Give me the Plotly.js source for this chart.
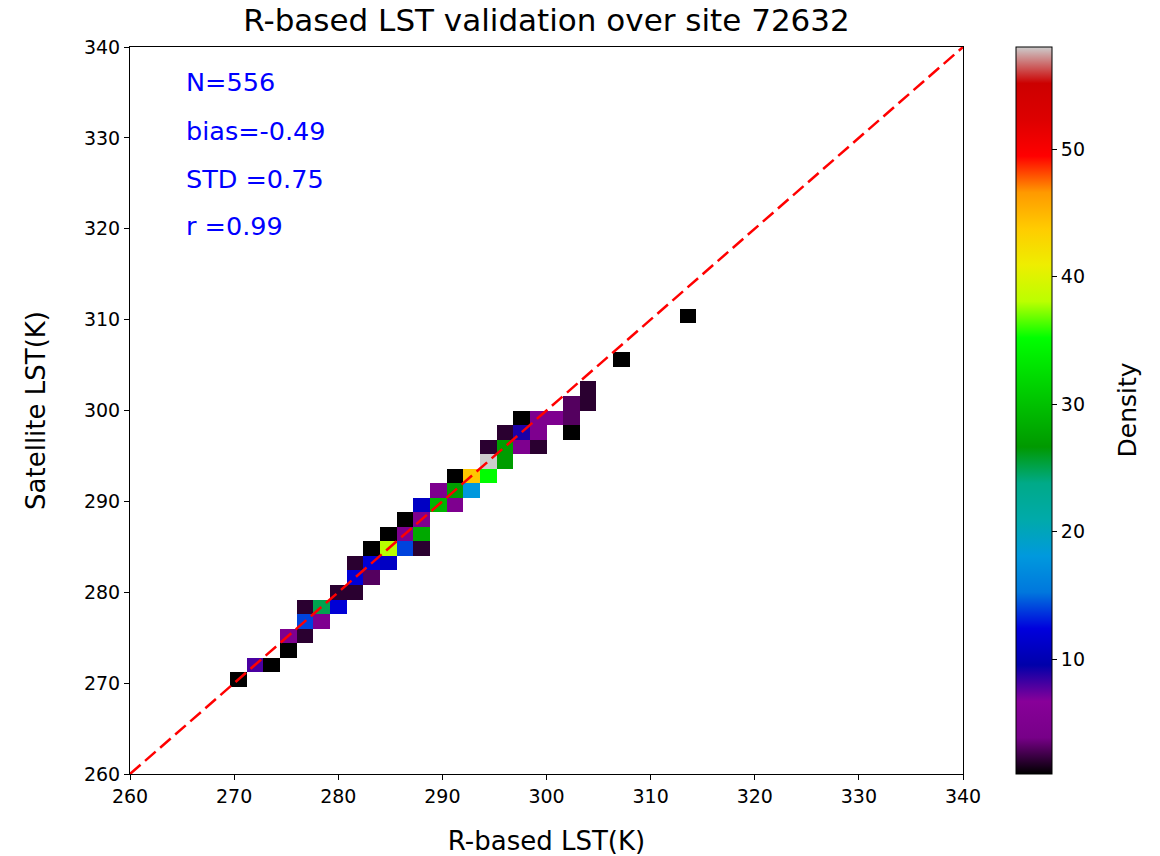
<!DOCTYPE html>
<html><head><meta charset="utf-8">
<script src="https://cdn.plot.ly/plotly-3.0.1.min.js"></script>
<style>html,body{margin:0;padding:0;background:#fff}#chart{width:1160px;height:856px}</style>
</head><body><div id="chart"></div>
<script>
// 2D histogram bins (K)
const binStart = 260, binSize = 1.6, binCount = 50;
// occupied cells: bin centre of R-based LST, bin centre of Satellite LST, count
const cellX = [270.4,272.0,273.6,275.2,275.2,276.8,276.8,276.8,278.4,278.4,280.0,280.0,281.6,281.6,281.6,283.2,283.2,283.2,284.8,284.8,284.8,286.4,286.4,286.4,288.0,288.0,288.0,288.0,289.6,289.6,291.2,291.2,291.2,292.8,292.8,294.4,294.4,294.4,296.0,296.0,296.0,297.6,297.6,297.6,299.2,299.2,299.2,300.8,302.4,302.4,302.4,304.0,304.0,307.2,313.6];
const cellY = [270.4,272.0,272.0,273.6,275.2,275.2,276.8,278.4,276.8,278.4,278.4,280.0,280.0,281.6,283.2,281.6,283.2,284.8,283.2,284.8,286.4,284.8,286.4,288.0,284.8,286.4,288.0,289.6,289.6,291.2,289.6,291.2,292.8,291.2,292.8,292.8,294.4,296.0,294.4,296.0,297.6,296.0,297.6,299.2,296.0,297.6,299.2,299.2,297.6,299.2,300.8,300.8,302.4,305.6,310.4];
const cellCount = [1,8,1,1,5,2,14,2,5,25,12,2,2,12,2,3,12,1,11,38,1,14,5,1,2,28,5,11,29,5,5,27,1,18,44,35,58,2,27,27,2,5,9,1,2,5,5,5,1,3,3,2,2,1,1];
const statLabels = ['N=556','bias=-0.49','STD =0.75','r =0.99'];
const statY = [336.1,330.8,325.5,320.3];
const axisTicks = [260,270,280,290,300,310,320,330,340];
const densityTicks = [10,20,30,40,50];

const centers = [];
for (let i = 0; i < binCount; i++) centers.push(+(binStart + binSize*(i+0.5)).toFixed(2));
const z = [];
for (let j = 0; j < binCount; j++) z.push(new Array(binCount).fill(null));
for (let k = 0; k < cellX.length; k++) {
  const i = Math.round((cellX[k]-binStart)/binSize - 0.5);
  const j = Math.round((cellY[k]-binStart)/binSize - 0.5);
  z[j][i] = cellCount[k];
}

const nipy = [
 [0,'rgb(0,0,0)'],[0.05,'rgb(119,0,136)'],[0.10,'rgb(136,0,153)'],[0.15,'rgb(0,0,170)'],
 [0.20,'rgb(0,0,221)'],[0.25,'rgb(0,119,221)'],[0.30,'rgb(0,153,221)'],[0.35,'rgb(0,170,170)'],
 [0.40,'rgb(0,170,136)'],[0.45,'rgb(0,153,0)'],[0.50,'rgb(0,187,0)'],[0.55,'rgb(0,221,0)'],
 [0.60,'rgb(0,255,0)'],[0.65,'rgb(187,255,0)'],[0.70,'rgb(238,238,0)'],[0.75,'rgb(255,204,0)'],
 [0.80,'rgb(255,153,0)'],[0.85,'rgb(255,0,0)'],[0.90,'rgb(221,0,0)'],[0.95,'rgb(204,0,0)'],
 [1.0,'rgb(204,204,204)']];

const FONT = 'DejaVu Sans, sans-serif';
const TICK = 19, LABEL = 26;
const traces = [
 {type:'heatmap', x:centers, y:centers, z:z, zmin:1, zmax:58, colorscale:nipy, zsmooth:false,
  hoverongaps:false,
  colorbar:{x:1.0636, xanchor:'left', xpad:0, ypad:0, y:0.5, yanchor:'middle', len:1, lenmode:'fraction',
    thickness:36, thicknessmode:'pixels', outlinewidth:1, outlinecolor:'#000',
    tickmode:'array', tickvals:densityTicks, ticks:'outside', ticklen:5, tickcolor:'#000',
    tickfont:{family:FONT,size:TICK,color:'#000'}}},
 {type:'scatter', mode:'lines', x:[axisTicks[0], axisTicks[axisTicks.length-1]], y:[axisTicks[0], axisTicks[axisTicks.length-1]],
  line:{color:'#ff0000', width:2.5, dash:'14px,6px'}, hoverinfo:'skip', showlegend:false}
];

const axisCommon = {range:[260,340], tickmode:'array', tickvals:axisTicks, ticks:'outside', ticklen:5,
  tickcolor:'#000', showline:true, mirror:true, linecolor:'#000', linewidth:1, showgrid:false, zeroline:false,
  tickfont:{family:FONT,size:TICK,color:'#000'}};

const annotations = statLabels.map((t,k)=>({text:t, x:265, y:statY[k], xref:'x', yref:'y', xanchor:'left', yanchor:'middle',
    showarrow:false, font:{family:FONT,size:25.5,color:'#0000ff'}, xshift:2}));
annotations.push({text:'Density', xref:'paper', yref:'paper', x:(1127-130)/833, y:0.5, xanchor:'center', yanchor:'middle',
    textangle:-90, showarrow:false, font:{family:FONT,size:25,color:'#000'}});

const layout = {
  width:1160, height:856, paper_bgcolor:'#fff', plot_bgcolor:'#fff',
  margin:{l:130, r:197, t:47, b:82, pad:0},
  font:{family:FONT, color:'#000'},
  title:{text:'R-based LST validation over site 72632', font:{family:FONT,size:31,color:'#000'},
    x:0.5, xref:'paper', xanchor:'center', y:1-20/856, yref:'container', yanchor:'middle'},
  xaxis:Object.assign({}, axisCommon, {title:{text:'R-based LST(K)', font:{family:FONT,size:LABEL,color:'#000'}, standoff:29}}),
  yaxis:Object.assign({}, axisCommon, {title:{text:'Satellite LST(K)', font:{family:FONT,size:LABEL,color:'#000'}, standoff:30}}),
  showlegend:false,
  annotations: annotations
};
Plotly.newPlot('chart', traces, layout, {displayModeBar:false, staticPlot:true});
</script></body></html>
